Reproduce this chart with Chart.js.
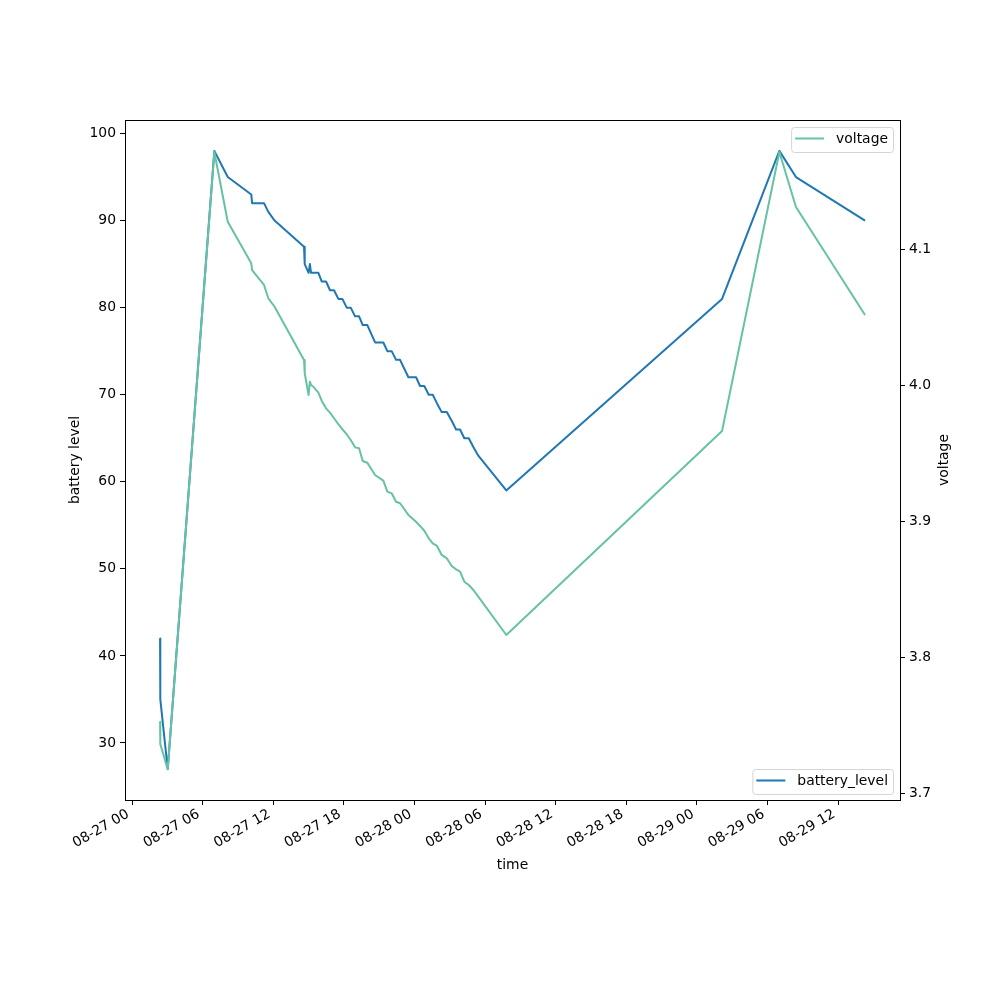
<!DOCTYPE html>
<html>
<head>
<meta charset="utf-8">
<script src="https://cdn.jsdelivr.net/npm/chart.js@4.4.1/dist/chart.umd.min.js"></script>
<style>
  html, body { margin: 0; padding: 0; background: #fff; }
</style>
</head>
<body>
<canvas id="chart" width="1000" height="1000"></canvas>
<script>
// time is counted in hours from 08-27 00:00
const hours = [2.38, 2.40, 3.03, 6.99, 8.13, 10.13, 10.20, 11.21, 11.58, 12.11,
               14.61, 14.67, 15.00, 15.11, 15.21, 15.40, 15.83, 16.12, 16.48, 16.82,
               17.16, 17.53, 17.87, 18.24, 18.58, 18.95, 19.29, 19.60, 19.99, 20.65,
               21.35, 21.69, 22.06, 22.43, 22.77, 23.48, 24.13, 24.47, 24.83, 25.21,
               25.55, 25.91, 26.31, 26.74, 27.16, 27.53, 27.87, 28.23, 28.61, 29.00,
               29.42, 31.80, 50.13, 55.00, 56.41, 62.28];

const batteryLevel = [42, 35, 27, 98, 95, 93, 92, 92, 91, 90,
                      87, 85, 84, 85, 84, 84, 84, 83, 83, 82,
                      82, 81, 81, 80, 80, 79, 79, 78, 78, 76,
                      76, 75, 75, 74, 74, 72, 72, 71, 71, 70,
                      70, 69, 68, 68, 67, 66, 66, 65, 65, 64,
                      63, 59, 81, 98, 95, 90];

const voltage = [3.7525, 3.736, 3.7175, 4.1714, 4.1201, 4.0895, 4.0846, 4.0736, 4.0638, 4.0576,
                 4.0184, 4.0087, 3.9927, 4.0025, 4.0000, 3.9988, 3.9944, 3.9883, 3.9829, 3.9797,
                 3.9756, 3.9712, 3.9675, 3.9638, 3.9596, 3.9542, 3.9535, 3.9442, 3.9429, 3.9339,
                 3.9297, 3.9216, 3.9204, 3.9142, 3.9131, 3.9045, 3.8995, 3.8964, 3.8929, 3.8873,
                 3.8836, 3.8817, 3.8751, 3.8726, 3.8670, 3.8645, 3.8628, 3.8554, 3.8530, 3.8493,
                 3.8444, 3.8162, 3.9662, 4.1714, 4.1309, 4.0515];

const xTicks = [0, 6, 12, 18, 24, 30, 36, 42, 48, 54, 60];
const xTickLabels = ['08-27 00', '08-27 06', '08-27 12', '08-27 18', '08-28 00', '08-28 06',
                     '08-28 12', '08-28 18', '08-29 00', '08-29 06', '08-29 12'];
const batteryTicks = [30, 40, 50, 60, 70, 80, 90, 100];
const voltageTicks = [3.7, 3.8, 3.9, 4.0, 4.1];

const FONT = 'DejaVu Sans';
const tickFont = { family: FONT, size: 13.9 };

function drawLegend(ctx, right, top, color, label) {
  ctx.font = '13.9px "' + FONT + '"';
  const w = ctx.measureText(label).width;
  const boxW = 4 + 29 + 12 + w + 5;
  const boxH = 25;
  const left = right - boxW;
  ctx.save();
  ctx.beginPath();
  ctx.roundRect(left + 0.5, top + 0.5, boxW, boxH, 3);
  ctx.fillStyle = 'rgba(255,255,255,0.8)';
  ctx.fill();
  ctx.strokeStyle = '#d5d5d5';
  ctx.lineWidth = 1;
  ctx.stroke();
  const cy = top + 11.5;
  ctx.beginPath();
  ctx.moveTo(left + 4, cy);
  ctx.lineTo(left + 33, cy);
  ctx.strokeStyle = color;
  ctx.lineWidth = 2;
  ctx.stroke();
  ctx.fillStyle = '#000';
  ctx.textBaseline = 'middle';
  ctx.textAlign = 'left';
  ctx.fillText(label, left + 45, cy + 1);
  ctx.restore();
}

const extras = {
  id: 'extras',
  afterDraw(chart) {
    const { ctx, chartArea: a } = chart;
    ctx.save();
    // frame
    ctx.strokeStyle = '#000';
    ctx.lineWidth = 1;
    ctx.strokeRect(a.left + 0.5, a.top + 0.5, a.right - a.left, a.bottom - a.top);
    // axis titles
    ctx.fillStyle = '#000';
    ctx.font = '13.9px "' + FONT + '"';
    ctx.textAlign = 'center';
    ctx.textBaseline = 'middle';
    ctx.fillText('time', (a.left + a.right) / 2, 865);
    ctx.save();
    ctx.translate(75, (a.top + a.bottom) / 2);
    ctx.rotate(-Math.PI / 2);
    ctx.fillText('battery level', 0, 0);
    ctx.restore();
    ctx.save();
    ctx.translate(944, (a.top + a.bottom) / 2);
    ctx.rotate(-Math.PI / 2);
    ctx.fillText('voltage', 0, 0);
    ctx.restore();
    ctx.restore();
    drawLegend(ctx, a.right - 7, a.top + 7, '#66c2a5', 'voltage');
    drawLegend(ctx, a.right - 7, a.bottom - 31, '#1f77b4', 'battery_level');
  }
};

const tickGrid = { drawOnChartArea: false, drawTicks: true, tickLength: 5, tickColor: '#000', tickWidth: 1 };

new Chart(document.getElementById('chart').getContext('2d'), {
  type: 'line',
  data: {
    datasets: [
      {
        label: 'battery_level',
        data: hours.map((h, i) => ({ x: h, y: batteryLevel[i] })),
        yAxisID: 'y',
        borderColor: '#1f77b4',
        borderWidth: 2,
        borderJoinStyle: 'round',
        pointRadius: 0,
        tension: 0,
        fill: false,
        order: 1
      },
      {
        label: 'voltage',
        data: hours.map((h, i) => ({ x: h, y: voltage[i] })),
        yAxisID: 'y1',
        borderColor: '#66c2a5',
        borderWidth: 2,
        borderJoinStyle: 'round',
        pointRadius: 0,
        tension: 0,
        fill: false,
        order: 0
      }
    ]
  },
  options: {
    responsive: false,
    animation: false,
    devicePixelRatio: 1,
    layout: { padding: { top: 120, left: 0, right: 0, bottom: 0 } },
    plugins: {
      legend: { display: false },
      tooltip: { enabled: false }
    },
    scales: {
      x: {
        type: 'linear',
        position: 'bottom',
        min: -0.6,
        max: 65.25,
        grid: tickGrid,
        border: { display: false },
        afterBuildTicks: s => { s.ticks = xTicks.map(v => ({ value: v })); },
        afterFit: s => { s.height = 200; },
        ticks: {
          color: '#000',
          font: tickFont,
          padding: 1,
          labelOffset: -4,
          autoSkip: false,
          minRotation: 30,
          maxRotation: 30,
          callback: v => xTickLabels[xTicks.indexOf(v)]
        }
      },
      y: {
        position: 'left',
        min: 23.45,
        max: 101.55,
        grid: tickGrid,
        border: { display: false },
        afterBuildTicks: s => { s.ticks = batteryTicks.map(v => ({ value: v })); },
        afterFit: s => { s.width = 125; },
        ticks: { color: '#000', font: tickFont, padding: 4 }
      },
      y1: {
        position: 'right',
        min: 3.6949,
        max: 4.1949,
        grid: tickGrid,
        border: { display: false },
        afterBuildTicks: s => { s.ticks = voltageTicks.map(v => ({ value: v })); },
        afterFit: s => { s.width = 100; },
        ticks: { color: '#000', font: tickFont, padding: 4, callback: v => v.toFixed(1) }
      }
    }
  },
  plugins: [extras]
});
</script>
</body>
</html>
